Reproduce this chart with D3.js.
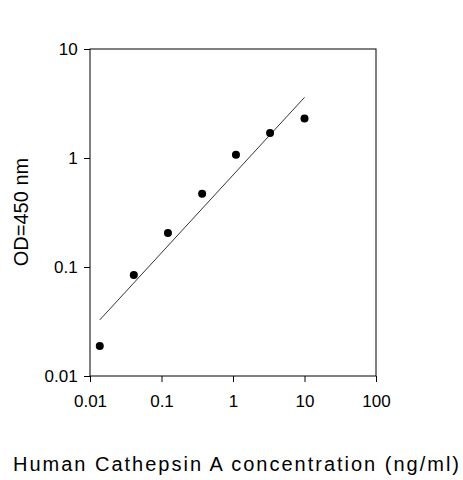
<!DOCTYPE html>
<html><head><meta charset="utf-8">
<script src="https://cdn.jsdelivr.net/npm/d3@7"></script>
<style>body{margin:0;background:#fff}text{font-family:"Liberation Sans",Arial,sans-serif}</style>
</head><body><svg id="c" width="463" height="480"></svg>
<script>
const concX = [0.0137, 0.041, 0.123, 0.37, 1.1, 3.3, 10];
const odY = [0.0188, 0.0845, 0.205, 0.47, 1.07, 1.7, 2.3];
const fitX = [0.0137, 10];
const fitY = [0.0327, 3.6];
const xTicks = [0.01, 0.1, 1, 10, 100];
const xTickLabels = ["0.01", "0.1", "1", "10", "100"];
const yTicks = [0.01, 0.1, 1, 10];
const yTickLabels = ["0.01", "0.1", "1", "10"];

const svg = d3.select("#c");
const L=90,R=376,T=49,B=376;
const x = d3.scaleLog().domain([0.01,100]).range([L,R]);
const y = d3.scaleLog().domain([0.01,10]).range([B,T]);
svg.append("rect").attr("x",L).attr("y",T).attr("width",R-L).attr("height",B-T).attr("fill","none").attr("stroke","#000");
const xa = svg.append("g").attr("transform",`translate(0,${B})`)
  .call(d3.axisBottom(x).tickValues(xTicks).tickFormat((d,i)=>xTickLabels[i]).tickSize(6).tickSizeOuter(0));
const ya = svg.append("g").attr("transform",`translate(${L},0)`)
  .call(d3.axisLeft(y).tickValues(yTicks).tickFormat((d,i)=>yTickLabels[i]).tickSize(6).tickSizeOuter(0));
[xa,ya].forEach(a=>{a.select(".domain").remove();a.selectAll("text").attr("font-size",17).attr("font-family","Liberation Sans, Arial").attr("fill","#000");});
xa.selectAll("text").attr("dy","1.3em");
ya.selectAll("text").attr("dx","-0.2em");
svg.append("line").attr("x1",x(fitX[0])).attr("y1",y(fitY[0])).attr("x2",x(fitX[1])).attr("y2",y(fitY[1])).attr("stroke","#000").attr("stroke-width",0.8);
svg.selectAll("circle.p").data(concX).enter().append("circle")
  .attr("cx",d=>x(d)).attr("cy",(d,i)=>y(odY[i])).attr("r",4).attr("fill","#000");
svg.append("text").attr("x",236).attr("y",471).attr("text-anchor","middle").attr("font-size",20).attr("textLength",446).text("Human Cathepsin A concentration (ng/ml)");
svg.append("text").attr("transform","translate(28,212) rotate(-90)").attr("text-anchor","middle").attr("font-size",20).text("OD=450 nm");
</script></body></html>
